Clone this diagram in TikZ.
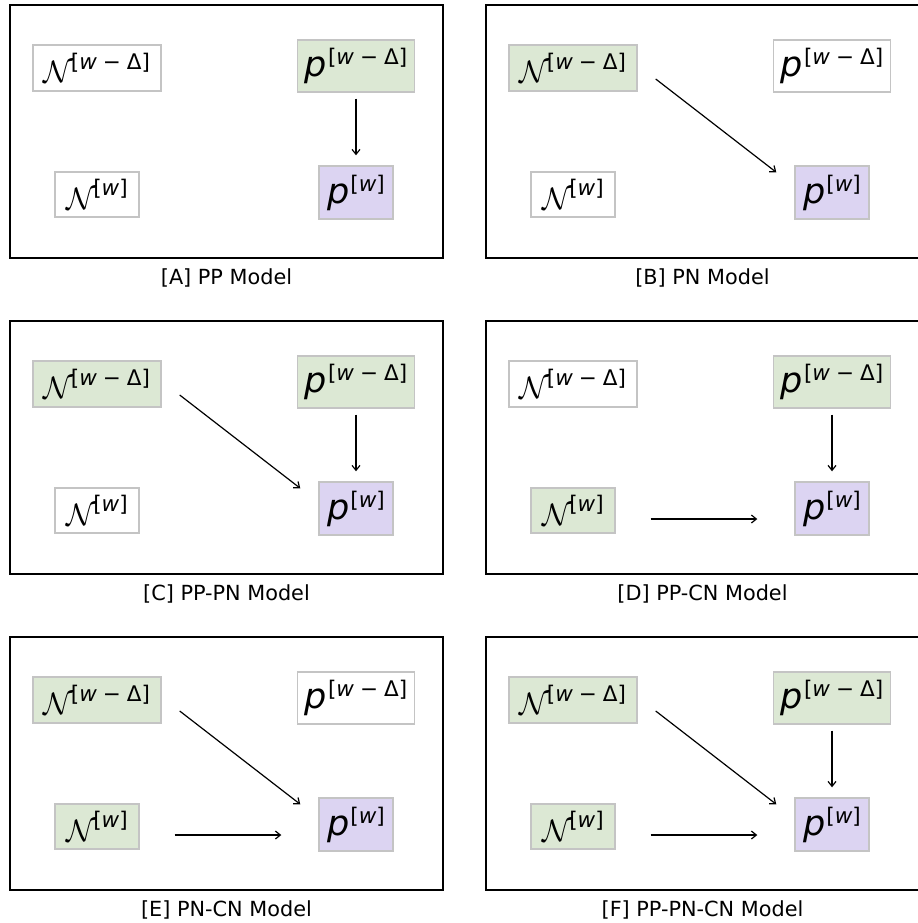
\RequirePackage{fix-cm}
\documentclass[tikz,border=0pt]{standalone}
\usepackage{fontspec}
\setmainfont{DejaVu Sans}
\usetikzlibrary{arrows.meta}

\definecolor{boxgreen}{RGB}{220,232,212}
\definecolor{boxpurple}{RGB}{220,212,242}
\definecolor{boxline}{RGB}{196,196,196}

% variable labels
\newcommand\suptext[1]{\fontsize{21.5bp}{22bp}\selectfont #1}
\newcommand\supwd{[\textit{w}\hspace{0.28em}−\hspace{0.28em}Δ]}
\newcommand\supww{[\textit{w}]}
\newcommand\plab[1]{{\fontsize{35bp}{35bp}\selectfont\itshape p}\hspace{1bp}\raisebox{12bp}{\suptext{#1}}}
\newcommand\nlab[1]{{\fontsize{31bp}{31bp}\selectfont$\mathcal{N}$}\hspace{-3bp}\raisebox{13.5bp}{\suptext{#1}}}

% one panel: prefix, shift x, shift y, caption, fill N[w-D], fill N[w], fill p[w-D]
\newcommand\modelpanel[7]{%
  \begin{scope}[shift={(#2,#3)}]
    \draw[frame] (10,5) rectangle (443,258);
    \node[var, fill=#5, minimum width=128bp, minimum height=46bp] (#1-nd) at (97,68) {\nlab{\supwd}};
    \node[var, fill=#6, minimum width=84bp, minimum height=45bp] (#1-nw) at (97,194.5) {\nlab{\supww}};
    \node[var, fill=#7, minimum width=117bp, minimum height=52bp] (#1-pd) at (356,66) {\plab{\supwd}};
    \node[var, fill=boxpurple, minimum width=74bp, minimum height=53bp] (#1-pw) at (356,192.5) {\plab{\supww}};
    \node[caption] (#1-cap) at (226.5,278) {#4};
  \end{scope}}

% connectors
\newcommand\vconn[1]{\draw[conn, shorten <=6bp, shorten >=10bp] (#1-pd.south) -- (#1-pw.north);}
\newcommand\dconn[1]{\draw[conn] ([shift={(18,11)}]#1-nd.east) -- ([shift={(-18,7)}]#1-pw.north west);}
\newcommand\hconn[1]{\draw[conn] ([shift={(35,8.5)}]#1-nw.east) -- ([shift={(-37,10.5)}]#1-pw.west);}

\begin{document}
\begin{tikzpicture}[x=1bp,y=-1bp,
  frame/.style={draw=black, line width=1.4bp},
  var/.style={draw=boxline, line width=1.4bp, inner sep=0pt, align=center},
  caption/.style={font=\fontsize{20.8bp}{25bp}\selectfont},
  conn/.style={draw=black, line width=1.2bp, -{Straight Barb[length=5bp,width=8bp]}}]
  \useasboundingbox (0,0) rectangle (918,923);

  \modelpanel{A}{0}{0}{[A] PP Model}{white}{white}{boxgreen}
  \vconn{A}

  \modelpanel{B}{476}{0}{[B] PN Model}{boxgreen}{white}{white}
  \dconn{B}

  \modelpanel{C}{0}{316}{[C] PP-PN Model}{boxgreen}{white}{boxgreen}
  \vconn{C}
  \dconn{C}

  \modelpanel{D}{476}{316}{[D] PP-CN Model}{white}{boxgreen}{boxgreen}
  \vconn{D}
  \hconn{D}

  \modelpanel{E}{0}{632}{[E] PN-CN Model}{boxgreen}{boxgreen}{white}
  \dconn{E}
  \hconn{E}

  \modelpanel{F}{476}{632}{[F] PP-PN-CN Model}{boxgreen}{boxgreen}{boxgreen}
  \vconn{F}
  \dconn{F}
  \hconn{F}
\end{tikzpicture}
\end{document}
